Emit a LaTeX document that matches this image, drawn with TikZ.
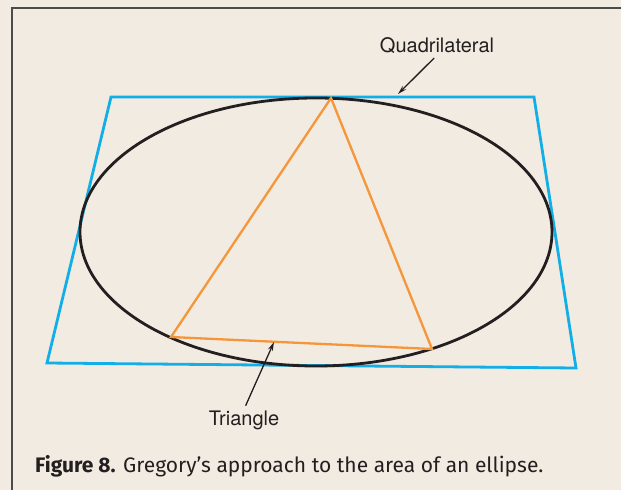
\documentclass[tikz,border=0pt]{standalone}
\usepackage{xcolor}
\usepackage{fontspec}
\setmainfont{TeX Gyre Heros}
\newfontfamily\capfont{Fira Sans}
\usepackage{tikz}
\usetikzlibrary{arrows.meta}

\definecolor{paper}{HTML}{F2EBE1}
\definecolor{quadblue}{HTML}{12AEE8}
\definecolor{triorange}{HTML}{F6963A}
\definecolor{inkgray}{HTML}{231F20}

\begin{document}
\begin{tikzpicture}[
  x=1pt, y=-1pt,
  lbl/.style={text=inkgray, font=\fontsize{20}{24}\selectfont, inner sep=1pt},
  arr/.style={-{Stealth[length=9pt, width=5pt]}, line width=1.3pt, draw=inkgray},
  quad/.style={draw=quadblue, line width=2.8pt, line join=miter},
  tri/.style={draw=triorange, line width=2.3pt, line join=miter},
  ell/.style={draw=inkgray, line width=2.8pt}
]
  % page and frame
  \fill[paper] (0,0) rectangle (621,490);
  \useasboundingbox (0,0) rectangle (621,490);
  \draw[line width=1.6pt, draw=black!70] (12,490) -- (12,8) -- (621,8);

  % corners
  \coordinate (q1) at (111,97);
  \coordinate (q2) at (534,97);
  \coordinate (q3) at (576,368);
  \coordinate (q4) at (47,363);
  \coordinate (t1) at (331,98);
  \coordinate (t2) at (171,337);
  \coordinate (t3) at (432,349);

  \draw[quad] (q1) -- (q2) -- (q3) -- (q4) -- cycle;
  \draw[ell] (316,232) ellipse [x radius=236, y radius=134];
  \draw[tri] (t1) -- (t2) -- (t3) -- cycle;

  % labels
  \node[lbl] (quadlbl) at (437,46) {Quadrilateral};
  \node[lbl] (trilbl)  at (244,420) {Triangle};
  \coordinate (quadtip) at (398,94);
  \coordinate (tritip)  at (274,342);
  \draw[arr, shorten <=4pt] (quadlbl.south) -- (quadtip);
  \draw[arr, shorten <=4pt] (trilbl.north) -- (tritip);

  % caption
  \node[anchor=base west, inner sep=0pt, text=inkgray,
        font=\capfont\fontsize{21}{25}\selectfont] (caption) at (35,472)
    {\textbf{Figure 8.} Gregory’s approach to the area of an ellipse.};
\end{tikzpicture}
\end{document}
